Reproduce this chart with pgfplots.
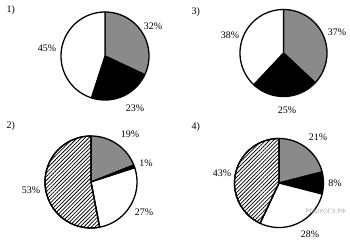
\documentclass[border=0pt]{standalone}
\usepackage{fontspec}
\setmainfont{Liberation Serif}
\newfontfamily\wmfont{DejaVu Sans}
\usepackage{pgfplots}
\pgfplotsset{compat=1.18}
\usetikzlibrary{patterns.meta}
\definecolor{piegray}{HTML}{8A8A8A}
\definecolor{wmgray}{HTML}{B0B0B0}
% #1 cx, #2 cy, #3 radius, #4 start (cumulative %), #5 end (cumulative %), #6 style
\newcommand\slice[6]{%
  \addplot[#6, draw=black, line width=1.3bp, line join=round,
    domain={90-3.6*(#5)}:{90-3.6*(#4)}, samples=60]
    ({#1+#3*cos(x)},{#2-#3*sin(x)}) -- (axis cs:#1,#2) -- cycle;}
\tikzset{hatched/.style={fill=white,
  postaction={pattern={Lines[angle=45,distance=2.7bp,line width=0.75bp]}}}}
\begin{document}
\begin{tikzpicture}
\begin{axis}[width=350bp, height=242bp, scale only axis,
  xmin=0, xmax=350, ymin=0, ymax=242, y dir=reverse,
  axis lines=none, clip=false,
  every node/.append style={font=\fontsize{11}{13}\selectfont, inner sep=0pt}]
\path (axis cs:0,0) (axis cs:350,242);
% ---- 1): 32, 23, 45
\slice{105}{56}{44}{0}{32}{fill=piegray}
\slice{105}{56}{44}{32}{55}{fill=black}
\slice{105}{56}{44}{55}{100}{fill=white}
% ---- 3): 37, 25, 38
\slice{283.5}{53}{43.5}{0}{37}{fill=piegray}
\slice{283.5}{53}{43.5}{37}{62}{fill=black}
\slice{283.5}{53}{43.5}{62}{100}{fill=white}
% ---- 2): 19, 1, 27, 53
\slice{91}{182}{46}{0}{19}{fill=piegray}
\slice{91}{182}{46}{19}{20}{fill=black}
\slice{91}{182}{46}{20}{47}{fill=white}
\slice{91}{182}{46}{47}{100}{hatched}
% ---- 4): 21, 8, 28, 43
\slice{279}{183}{44.5}{0}{21}{fill=piegray}
\slice{279}{183}{44.5}{21}{29}{fill=black}
\slice{279}{183}{44.5}{29}{57}{fill=white}
\slice{279}{183}{44.5}{57}{100}{hatched}
% labels
\node[anchor=west] at (axis cs:3,10) {1)};
\node[anchor=west] at (axis cs:188,12) {3)};
\node[anchor=west] at (axis cs:3,126) {2)};
\node[anchor=west] at (axis cs:188,127) {4)};
\node at (axis cs:153,26) {32\%};
\node at (axis cs:135,108) {23\%};
\node at (axis cs:47,48) {45\%};
\node at (axis cs:337,32) {37\%};
\node at (axis cs:287,110) {25\%};
\node at (axis cs:230,35) {38\%};
\node at (axis cs:130,134) {19\%};
\node at (axis cs:146,163) {1\%};
\node at (axis cs:31,190) {53\%};
\node at (axis cs:144,212) {27\%};
\node at (axis cs:318,137) {21\%};
\node at (axis cs:335,183) {8\%};
\node at (axis cs:222,173) {43\%};
\node at (axis cs:310,234) {28\%};
\node[text=wmgray, font=\wmfont\fontsize{6}{7}\selectfont] at (axis cs:326,211) {РЕШУОГЭ.РФ};
\end{axis}
\end{tikzpicture}
\end{document}
